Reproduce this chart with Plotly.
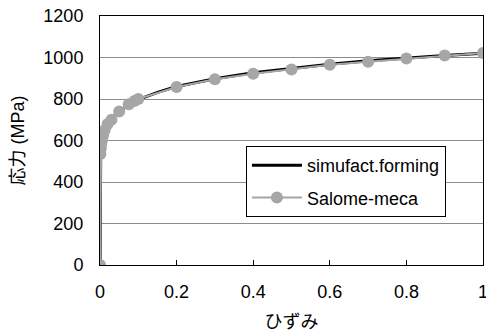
import plotly.graph_objects as go

# Stress–strain curves from two solvers
strain_simufact = [0, 0.0005, 0.002, 0.006, 0.012, 0.02, 0.035, 0.05, 0.075, 0.1, 0.15,
                   0.2, 0.3, 0.4, 0.5, 0.6, 0.7, 0.8, 0.9, 1.0]
stress_simufact = [0, 560, 590, 625, 655, 680, 715, 740, 772, 797, 832,
                   860, 898, 926, 948, 968, 984, 998, 1010, 1020]

strain_salome = [0, 0.001, 0.002, 0.003, 0.005, 0.008, 0.012, 0.02, 0.03, 0.05,
                 0.075, 0.09, 0.1, 0.2, 0.3, 0.4, 0.5, 0.6, 0.7, 0.8, 0.9, 1.0]
stress_salome = [0, 535, 560, 580, 600, 625, 650, 680, 700, 740,
                 775, 790, 800, 858, 895, 922, 942, 965, 980, 995, 1010, 1022]

x_ticks = [0, 0.2, 0.4, 0.6, 0.8]
x_tick_text = ["0", "0.2", "0.4", "0.6", "0.8"]
x_last_tick = 1
y_ticks = [0, 200, 400, 600, 800, 1000, 1200]

font_main = "Liberation Sans, Arial, sans-serif"
font_title = "Liberation Sans, Noto Sans CJK JP, sans-serif"
fs = 18

fig = go.Figure()
fig.add_trace(go.Scatter(
    x=strain_simufact, y=stress_simufact, mode="lines", name="simufact.forming",
    line=dict(color="black", width=3), legendgroup="a",
))
fig.add_trace(go.Scatter(
    x=strain_salome, y=stress_salome, mode="lines+markers", name="Salome-meca",
    line=dict(color="#a6a6a6", width=2),
    marker=dict(color="#a6a6a6", size=12), legendgroup="b",
))

# The final x tick label sits on the right edge of the figure
fig.add_annotation(
    x=x_last_tick, y=0, xref="x", yref="y", text=str(x_last_tick),
    showarrow=False, yanchor="top", yshift=-15,
    font=dict(family=font_main, size=fs, color="black"),
)

fig.update_layout(
    width=486, height=333,
    margin=dict(l=100, r=3, t=16, b=68),
    paper_bgcolor="white", plot_bgcolor="white",
    font=dict(family=font_main, size=fs, color="black"),
    showlegend=True,
    legend=dict(
        x=0.381, y=0.478, xanchor="left", yanchor="top",
        bgcolor="white", bordercolor="black", borderwidth=1,
        font=dict(family=font_main, size=fs, color="black"),
        traceorder="grouped", tracegroupgap=6, itemwidth=50,
    ),
    xaxis=dict(
        range=[0, 1], tickvals=x_ticks, ticktext=x_tick_text,
        ticks="inside", ticklen=5, tickcolor="black",
        showgrid=False, zeroline=False,
        showline=True, linecolor="black", linewidth=1, mirror=True,
        title=dict(text="ひずみ", font=dict(family=font_title, size=fs), standoff=14),
        tickfont=dict(size=fs), ticklabelstandoff=10,
    ),
    yaxis=dict(
        range=[0, 1200], tickvals=y_ticks,
        ticks="", showgrid=True, gridcolor="#8c8c8c", gridwidth=1,
        zeroline=False,
        showline=True, linecolor="black", linewidth=1, mirror=True,
        title=dict(text="応力 (MPa)", font=dict(family=font_title, size=fs), standoff=14),
        tickfont=dict(size=fs), ticklabelstandoff=12,
    ),
)

fig.write_html("out.html")
